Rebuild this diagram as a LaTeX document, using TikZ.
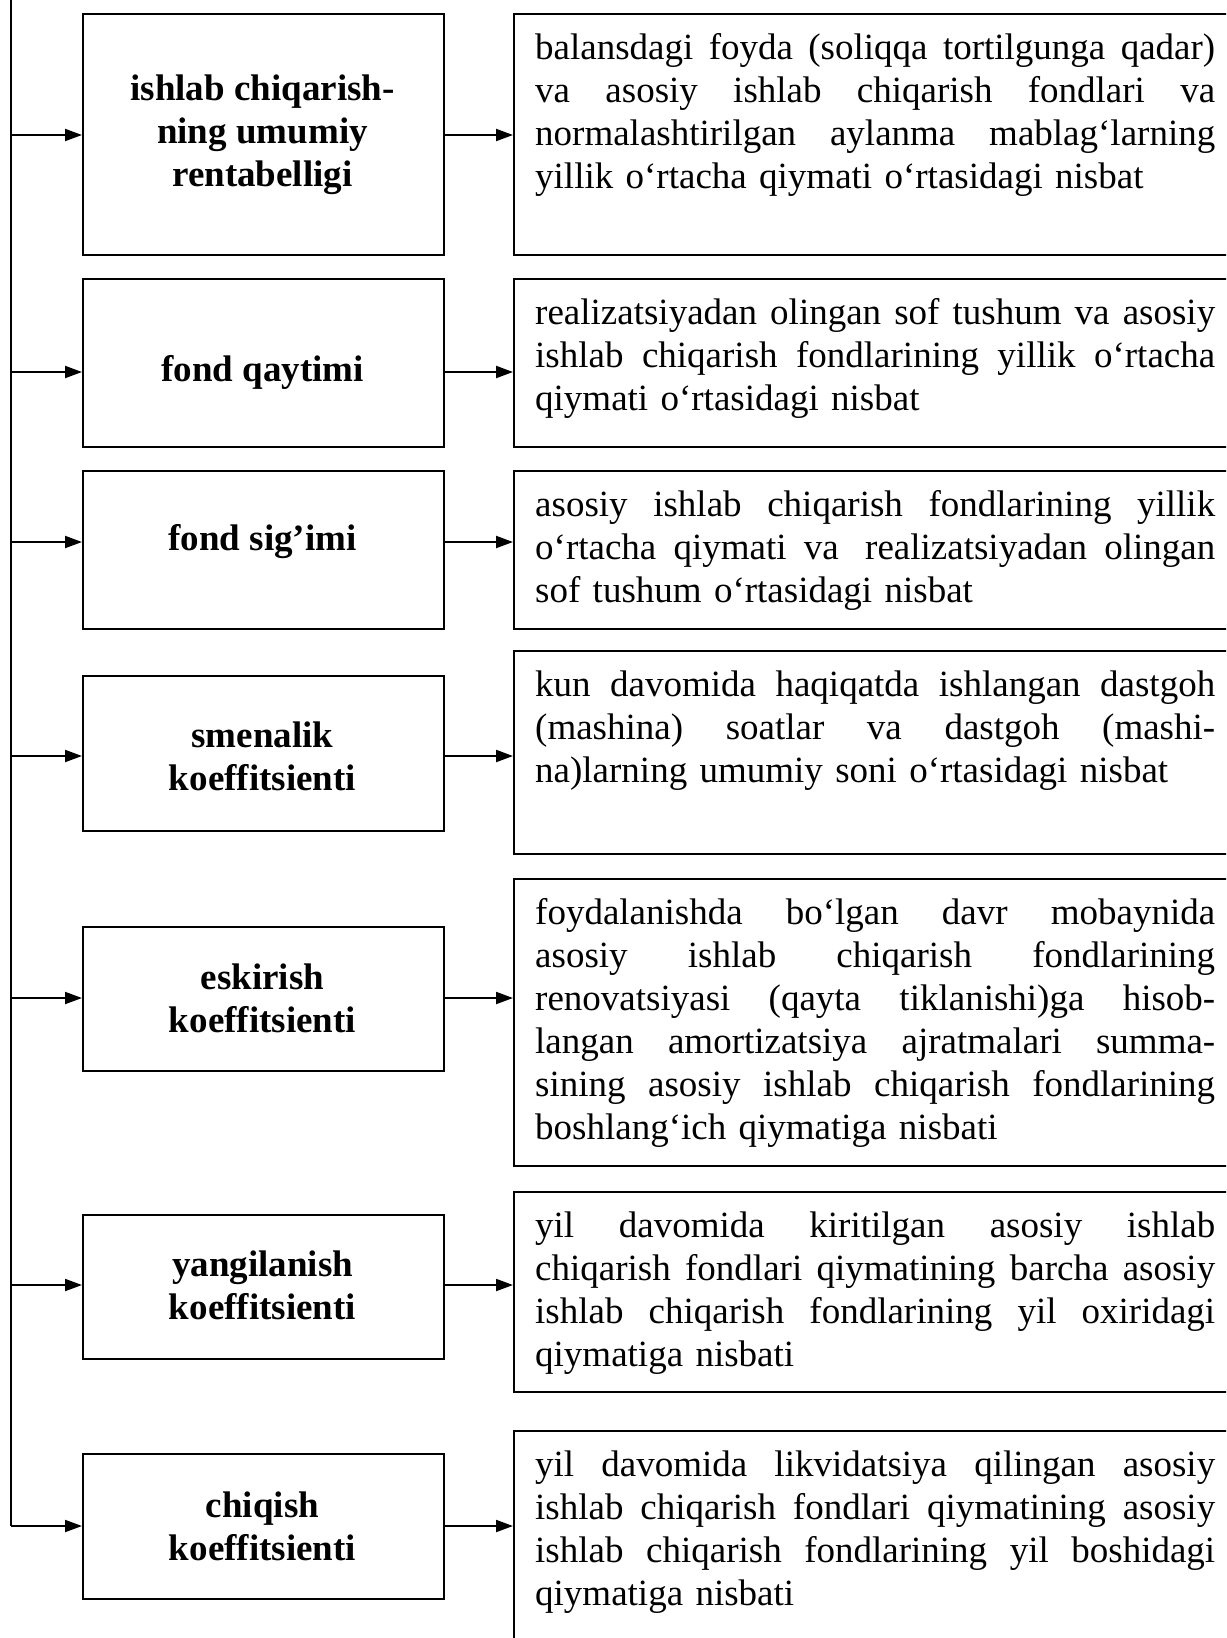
\documentclass[tikz,border=0pt]{standalone}
\usepackage{fontspec}
\setmainfont{Liberation Serif}
\usetikzlibrary{arrows.meta}
\newlength{\jw}\setlength{\jw}{680pt}
\newcommand{\jl}[1]{\leavevmode\hbox to\jw{\spaceskip=0.25em plus 1fil\relax #1}}
\begin{document}
\begin{tikzpicture}[x=1pt,y=-1pt,
  lbox/.style={draw, line width=2pt, minimum width=361pt, anchor=north west, inner sep=0pt},
  ltext/.style={inner sep=0pt, font=\fontsize{37}{43}\selectfont\bfseries, align=center},
  rbox/.style={draw, line width=2pt, minimum width=740pt, anchor=north west, inner sep=0pt},
  rtext/.style={anchor=base west, inner sep=0pt, text width=680pt, align=left,
    font=\fontsize{37}{43}\selectfont},
  conn/.style={line width=2pt, -{Triangle[length=17pt,width=12pt]}},
  trunk/.style={line width=2pt}]
\clip (0,0) rectangle (1226,1638);
\fill[white] (0,0) rectangle (1226,1638);

% left boxes
\node[lbox, minimum height=241pt] (B1) at (82,13) {};
\node[lbox, minimum height=168pt] (B2) at (82,278) {};
\node[lbox, minimum height=158pt] (B3) at (82,470) {};
\node[lbox, minimum height=155pt] (B4) at (82,675) {};
\node[lbox, minimum height=144pt] (B5) at (82,926) {};
\node[lbox, minimum height=144pt] (B6) at (82,1214) {};
\node[lbox, minimum height=145pt] (B7) at (82,1453) {};

% left labels
\node[ltext] (L1) at (262.5,135) {ishlab chiqarish-\\ning umumiy\\rentabelligi};
\node[ltext] (L2) at (262.5,372) {fond qaytimi};
\node[ltext] (L3) at (262.5,542) {fond sig’imi};
\node[ltext] (L4) at (262.5,756) {smenalik\\koeffitsienti};
\node[ltext] (L5) at (262.5,998) {eskirish\\koeffitsienti};
\node[ltext] (L6) at (262.5,1285) {yangilanish\\koeffitsienti};
\node[ltext] (L7) at (262.5,1526) {chiqish\\koeffitsienti};

% right boxes
\node[rbox, minimum height=241pt] (R1) at (513,13) {};
\node[rbox, minimum height=168pt] (R2) at (513,278) {};
\node[rbox, minimum height=158pt] (R3) at (513,470) {};
\node[rbox, minimum height=203pt] (R4) at (513,650) {};
\node[rbox, minimum height=287pt] (R5) at (513,878) {};
\node[rbox, minimum height=200pt] (R6) at (513,1191) {};
\node[rbox, minimum height=300pt] (R7) at (513,1430) {};

% texts of right boxes
\node[rtext] (T1) at (535,59) {\jl{balansdagi foyda (soliqqa tortilgunga qadar)}\\
\jl{va asosiy ishlab chiqarish fondlari va}\\
\jl{normalashtirilgan aylanma mablag‘larning}\\
yillik o‘rtacha qiymati o‘rtasidagi nisbat};
\node[rtext] (T2) at (535,324) {\jl{realizatsiyadan olingan sof tushum va asosiy}\\
\jl{ishlab chiqarish fondlarining yillik o‘rtacha}\\
qiymati o‘rtasidagi nisbat};
\node[rtext] (T3) at (535,516) {\jl{asosiy ishlab chiqarish fondlarining yillik}\\
\jl{o‘rtacha qiymati va\hspace{0.25em} realizatsiyadan olingan}\\
sof tushum o‘rtasidagi nisbat};
\node[rtext] (T4) at (535,696) {\jl{kun davomida haqiqatda ishlangan dastgoh}\\
\jl{(mashina) soatlar va dastgoh (mashi-}\\
na)larning umumiy soni o‘rtasidagi nisbat};
\node[rtext] (T5) at (535,924) {\jl{foydalanishda bo‘lgan davr mobaynida}\\
\jl{asosiy ishlab chiqarish fondlarining}\\
\jl{renovatsiyasi (qayta tiklanishi)ga hisob-}\\
\jl{langan amortizatsiya ajratmalari summa-}\\
\jl{sining asosiy ishlab chiqarish fondlarining}\\
boshlang‘ich qiymatiga nisbati};
\node[rtext] (T6) at (535,1237) {\jl{yil davomida kiritilgan asosiy ishlab}\\
\jl{chiqarish fondlari qiymatining barcha asosiy}\\
\jl{ishlab chiqarish fondlarining yil oxiridagi}\\
qiymatiga nisbati};
\node[rtext] (T7) at (535,1476) {\jl{yil davomida likvidatsiya qilingan asosiy}\\
\jl{ishlab chiqarish fondlari qiymatining asosiy}\\
\jl{ishlab chiqarish fondlarining yil boshidagi}\\
qiymatiga nisbati};

% trunk line on the left
\coordinate (top) at (11,0);
\draw[trunk] (top) -- (top |- L7);
\foreach \i in {1,...,7}{
  \draw[conn] (top |- L\i) -- (B\i.west |- L\i);
  \draw[conn] (B\i.east |- L\i) -- (R\i.west |- L\i);
}
\end{tikzpicture}
\end{document}
